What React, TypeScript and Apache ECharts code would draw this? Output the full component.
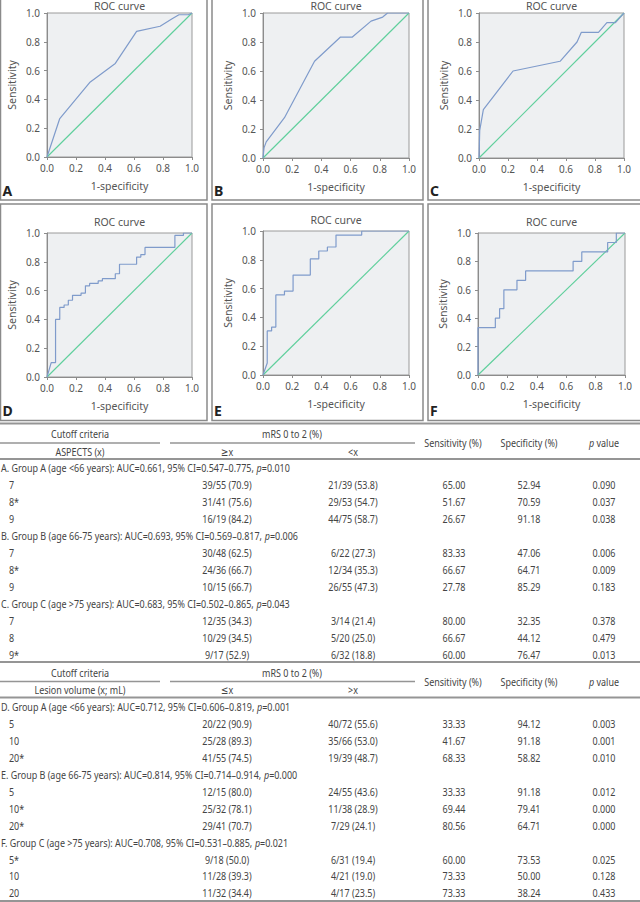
import React, { useEffect, useRef } from "react";
import * as echarts from "echarts";

// ROC curve vertices [1-specificity, sensitivity]
const rocA: [number, number][] = [
  [0, 0], [0.088, 0.267], [0.294, 0.517], [0.471, 0.65], [0.618, 0.872],
  [0.78, 0.908], [0.86, 0.958], [0.91, 0.988], [0.975, 0.988], [1, 1],
];
const rocB: [number, number][] = [
  [0, 0], [0.007, 0.07], [0.022, 0.111], [0.147, 0.278], [0.353, 0.667],
  [0.529, 0.833], [0.61, 0.833], [0.74, 0.944], [0.82, 0.972], [0.853, 1], [1, 1],
];
const rocC: [number, number][] = [
  [0, 0], [0.005, 0.19], [0.03, 0.333], [0.235, 0.6], [0.559, 0.667],
  [0.676, 0.8], [0.706, 0.867], [0.824, 0.867], [0.882, 0.933], [0.941, 0.933], [1, 1],
];
const rocD: [number, number][] = [
  [0, 0], [0.029, 0.1], [0.059, 0.1], [0.059, 0.4], [0.088, 0.4], [0.088, 0.483],
  [0.118, 0.483], [0.118, 0.5], [0.147, 0.5], [0.147, 0.533], [0.176, 0.533],
  [0.176, 0.567], [0.235, 0.567], [0.235, 0.583], [0.265, 0.583], [0.265, 0.633],
  [0.294, 0.633], [0.294, 0.65], [0.353, 0.65], [0.353, 0.667], [0.382, 0.667],
  [0.382, 0.683], [0.471, 0.683], [0.471, 0.717], [0.5, 0.717], [0.5, 0.783],
  [0.618, 0.783], [0.618, 0.833], [0.647, 0.833], [0.647, 0.85], [0.676, 0.85],
  [0.676, 0.9], [0.882, 0.9], [0.882, 0.983], [0.941, 0.983], [0.941, 1], [1, 1],
];
const rocE: [number, number][] = [
  [0, 0], [0.029, 0.083], [0.029, 0.306], [0.059, 0.306], [0.059, 0.333],
  [0.088, 0.333], [0.088, 0.556], [0.147, 0.556], [0.147, 0.583], [0.206, 0.583],
  [0.206, 0.694], [0.324, 0.694], [0.324, 0.806], [0.382, 0.806], [0.382, 0.861],
  [0.441, 0.861], [0.441, 0.889], [0.5, 0.889], [0.5, 0.972], [0.676, 0.972],
  [0.676, 1], [1, 1],
];
const rocF: [number, number][] = [
  [0, 0], [0, 0.333], [0.118, 0.333], [0.118, 0.4], [0.147, 0.4], [0.147, 0.467],
  [0.176, 0.467], [0.176, 0.6], [0.265, 0.6], [0.265, 0.667], [0.324, 0.667],
  [0.324, 0.733], [0.647, 0.733], [0.647, 0.8], [0.706, 0.8], [0.706, 0.867],
  [0.882, 0.867], [0.882, 0.933], [0.941, 0.933], [0.941, 1], [1, 1],
];
const referenceLine: [number, number][] = [[0, 0], [1, 1]];
const rocCurves = [rocA, rocB, rocC, rocD, rocE, rocF];
const panelLetters = ["A", "B", "C", "D", "E", "F"];

// Table 1: ASPECTS cut-offs
const aspectsGroupHeads = [
  "A. Group A (age <66 years): AUC=0.661, 95% CI=0.547–0.775, ",
  "B. Group B (age 66-75 years): AUC=0.693, 95% CI=0.569–0.817, ",
  "C. Group C (age >75 years): AUC=0.683, 95% CI=0.502–0.865, ",
];
const aspectsGroupP = ["0.010", "0.006", "0.043"];
const aspectsCutoffs = [["7", "8*", "9"], ["7", "8*", "9"], ["7", "8", "9*"]];
const aspectsAtLeast = [
  ["39/55 (70.9)", "31/41 (75.6)", "16/19 (84.2)"],
  ["30/48 (62.5)", "24/36 (66.7)", "10/15 (66.7)"],
  ["12/35 (34.3)", "10/29 (34.5)", "9/17 (52.9)"],
];
const aspectsBelow = [
  ["21/39 (53.8)", "29/53 (54.7)", "44/75 (58.7)"],
  ["6/22 (27.3)", "12/34 (35.3)", "26/55 (47.3)"],
  ["3/14 (21.4)", "5/20 (25.0)", "6/32 (18.8)"],
];
const aspectsSensitivity = [["65.00", "51.67", "26.67"], ["83.33", "66.67", "27.78"], ["80.00", "66.67", "60.00"]];
const aspectsSpecificity = [["52.94", "70.59", "91.18"], ["47.06", "64.71", "85.29"], ["32.35", "44.12", "76.47"]];
const aspectsPValue = [["0.090", "0.037", "0.038"], ["0.006", "0.009", "0.183"], ["0.378", "0.479", "0.013"]];

// Table 2: lesion volume cut-offs
const volumeGroupHeads = [
  "D. Group A (age <66 years): AUC=0.712, 95% CI=0.606–0.819, ",
  "E. Group B (age 66-75 years): AUC=0.814, 95% CI=0.714–0.914, ",
  "F. Group C (age >75 years): AUC=0.708, 95% CI=0.531–0.885, ",
];
const volumeGroupP = ["0.001", "0.000", "0.021"];
const volumeCutoffs = [["5", "10", "20*"], ["5", "10*", "20*"], ["5*", "10", "20"]];
const volumeAtMost = [
  ["20/22 (90.9)", "25/28 (89.3)", "41/55 (74.5)"],
  ["12/15 (80.0)", "25/32 (78.1)", "29/41 (70.7)"],
  ["9/18 (50.0)", "11/28 (39.3)", "11/32 (34.4)"],
];
const volumeAbove = [
  ["40/72 (55.6)", "35/66 (53.0)", "19/39 (48.7)"],
  ["24/55 (43.6)", "11/38 (28.9)", "7/29 (24.1)"],
  ["6/31 (19.4)", "4/21 (19.0)", "4/17 (23.5)"],
];
const volumeSensitivity = [["33.33", "41.67", "68.33"], ["33.33", "69.44", "80.56"], ["60.00", "73.33", "73.33"]];
const volumeSpecificity = [["94.12", "91.18", "58.82"], ["91.18", "79.41", "64.71"], ["73.53", "50.00", "38.24"]];
const volumePValue = [["0.003", "0.001", "0.010"], ["0.012", "0.000", "0.000"], ["0.025", "0.128", "0.433"]];

const FONT = "'Noto Sans', 'DejaVu Sans', sans-serif";
const TEXT = "#444444";
const RULE = "#959595";
const NARROW = 0.78;
const TABLE_SIZE = 11.5;
const CHANCE_GREEN = "#5fcf9c";
const CURVE_BLUE = "#7f9bcb";

const gridBoxes = [
  { left: 47, top: 13, width: 145, height: 144 },
  { left: 263, top: 13, width: 146, height: 145 },
  { left: 479, top: 13, width: 145, height: 145 },
  { left: 47, top: 233, width: 145, height: 144 },
  { left: 263, top: 231, width: 146, height: 144 },
  { left: 478, top: 233, width: 147, height: 142 },
];
const panelFrames = [
  { x: 0.5, y: -10, w: 206.5, h: 210 },
  { x: 212, y: -10, w: 211, h: 210 },
  { x: 428, y: -10, w: 215, h: 210 },
  { x: 0.5, y: 204, w: 206.5, h: 216.5 },
  { x: 212, y: 204, w: 211, h: 216.5 },
  { x: 428, y: 204, w: 215, h: 216.5 },
];

const italicRich = {
  i: { fontStyle: "italic", fontSize: TABLE_SIZE, fontFamily: FONT, fill: TEXT },
};

function txt(x: number, y: number, text: string, align = "center", extra: any = {}) {
  return {
    type: "text",
    x,
    y,
    scaleX: NARROW,
    silent: true,
    style: {
      text,
      fill: TEXT,
      fontSize: TABLE_SIZE,
      fontFamily: FONT,
      align,
      verticalAlign: "middle",
      ...extra,
    },
  };
}

function hline(x1: number, x2: number, y: number, w = 1) {
  return {
    type: "line",
    silent: true,
    shape: { x1, y1: y, x2, y2: y },
    style: { stroke: RULE, lineWidth: w },
  };
}

function buildTable(
  top: number,
  heads: string[],
  headP: string[],
  cutLabel: string,
  leftHead: string,
  rightHead: string,
  cut: string[][],
  colA: string[][],
  colB: string[][],
  sens: string[][],
  spec: string[][],
  pv: string[][],
  rowStart: number
) {
  const els: any[] = [];
  els.push(hline(0, 640, top, 1.8));
  els.push(hline(0, 160, top + 19.5, 1.3));
  els.push(hline(170, 415, top + 19.5, 1.3));
  els.push(hline(0, 640, top + 35.5, 1.8));
  els.push(txt(80, top + 10.5, "Cutoff criteria"));
  els.push(txt(292, top + 10.5, "mRS 0 to 2 (%)"));
  els.push(txt(80, top + 28, cutLabel));
  els.push(txt(227, top + 28, leftHead));
  els.push(txt(353, top + 28, rightHead));
  els.push(txt(453, top + 19.5, "Sensitivity (%)"));
  els.push(txt(529, top + 19.5, "Specificity (%)"));
  els.push(txt(604, top + 19.5, "{i|p} value", "center", { rich: italicRich }));
  const step = 16.95;
  heads.forEach((h, g) => {
    const gy = rowStart + g * 4 * step;
    els.push(txt(1, gy, `${h}{i|p}=${headP[g]}`, "left", { rich: italicRich }));
    for (let r = 0; r < 3; r++) {
      const ry = gy + (r + 1) * step;
      els.push(txt(9, ry, cut[g][r], "left"));
      els.push(txt(227, ry, colA[g][r]));
      els.push(txt(353, ry, colB[g][r]));
      els.push(txt(454, ry, sens[g][r]));
      els.push(txt(529, ry, spec[g][r]));
      els.push(txt(604, ry, pv[g][r]));
    }
  });
  return els;
}

export default function App() {
  const ref = useRef<HTMLDivElement>(null);

  useEffect(() => {
    if (!ref.current) return;
    const chart = echarts.init(ref.current, undefined, { renderer: "svg" });

    const axisCommon = {
      type: "value" as const,
      min: 0,
      max: 1,
      interval: 0.2,
      splitLine: { show: false },
      axisLine: { show: true, lineStyle: { color: "#8c8c8c", width: 1 } },
      axisTick: { show: true, inside: false, length: 3, lineStyle: { color: "#8c8c8c" } },
      axisLabel: {
        color: "#555",
        fontSize: 10,
        fontFamily: FONT,
        formatter: (v: number) => v.toFixed(1),
      },
      nameLocation: "middle" as const,
      nameTextStyle: { color: "#555", fontSize: 10.5, fontFamily: FONT },
    };

    const grid = gridBoxes.map((g) => ({
      ...g,
      show: true,
      backgroundColor: "#eef0f2",
      borderColor: "#9a9a9a",
      borderWidth: 1,
      containLabel: false,
    }));

    const xAxis = gridBoxes.map((_, i) => ({
      ...axisCommon,
      gridIndex: i,
      name: "1-specificity",
      nameGap: 23,
      axisLabel: { ...axisCommon.axisLabel, margin: 6 },
    }));
    const yAxis = gridBoxes.map((_, i) => ({
      ...axisCommon,
      gridIndex: i,
      name: "Sensitivity",
      nameGap: 30,
      axisLabel: { ...axisCommon.axisLabel, margin: 7 },
    }));

    const series: any[] = [];
    rocCurves.forEach((curve, i) => {
      series.push({
        name: `roc-${i}`,
        type: "line",
        xAxisIndex: i,
        yAxisIndex: i,
        data: curve,
        showSymbol: false,
        color: CURVE_BLUE,
        lineStyle: { color: CURVE_BLUE, width: 1.2 },
        silent: true,
        z: 3,
      });
      series.push({
        name: `chance-${i}`,
        type: "line",
        xAxisIndex: i,
        yAxisIndex: i,
        data: referenceLine,
        showSymbol: false,
        color: CHANCE_GREEN,
        lineStyle: { color: CHANCE_GREEN, width: 1.15, opacity: 1 },
        silent: true,
        z: 2,
      });
    });

    const graphic: any[] = [];
    panelFrames.forEach((f) => {
      graphic.push({
        type: "rect",
        silent: true,
        shape: { x: f.x, y: f.y, width: f.w, height: f.h },
        style: { fill: "none", stroke: "#8a8a8a", lineWidth: 1.5 },
        z: -1,
      });
    });
    gridBoxes.forEach((g, i) => {
      graphic.push({
        type: "text",
        silent: true,
        x: g.left + g.width / 2,
        y: i < 3 ? 6 : g.top - 11,
        style: {
          text: "ROC curve",
          fill: "#555",
          fontSize: 10.5,
          fontFamily: FONT,
          align: "center",
          verticalAlign: "middle",
        },
      });
      graphic.push({
        type: "text",
        silent: true,
        x: panelFrames[i].x + 2,
        y: i < 3 ? 190 : 410,
        style: {
          text: panelLetters[i],
          fill: "#222",
          fontSize: 14,
          fontWeight: "bold",
          fontFamily: FONT,
          align: "left",
          verticalAlign: "middle",
        },
      });
    });

    graphic.push(
      ...buildTable(
        423.5, aspectsGroupHeads, aspectsGroupP, "ASPECTS (x)", "≥x", "<x",
        aspectsCutoffs, aspectsAtLeast, aspectsBelow,
        aspectsSensitivity, aspectsSpecificity, aspectsPValue, 468
      )
    );
    graphic.push(
      ...buildTable(
        662, volumeGroupHeads, volumeGroupP, "Lesion volume (x; mL)", "≤x", ">x",
        volumeCutoffs, volumeAtMost, volumeAbove,
        volumeSensitivity, volumeSpecificity, volumePValue, 706.5
      )
    );
    graphic.push(hline(0, 640, 901, 1.8));

    chart.setOption({
      animation: false,
      backgroundColor: "#ffffff",
      grid,
      xAxis,
      yAxis,
      series,
      graphic,
    });

    return () => chart.dispose();
  }, []);

  return (
    <div
      ref={ref}
      style={{ position: "absolute", left: 0, top: 0, width: 640, height: 902 }}
    />
  );
}
